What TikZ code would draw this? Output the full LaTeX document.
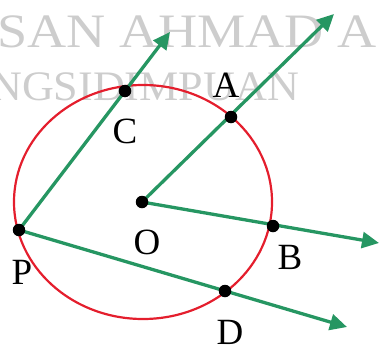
\documentclass[tikz,border=0pt]{standalone}
\usepackage{fontspec}
\setmainfont{Liberation Serif}
\usepackage{tikz}
\usetikzlibrary{arrows.meta}
\definecolor{raygreen}{RGB}{38,150,98}
\definecolor{circlered}{RGB}{228,30,45}
\definecolor{markgray}{RGB}{205,205,205}

\begin{document}
\begin{tikzpicture}[
    x=1pt, y=-1pt,
    ray/.style={draw=raygreen, line width=3.3pt, -{Triangle[length=17pt,width=16pt]}},
    dotpt/.style={circle, fill=black, inner sep=0pt, minimum size=12.5pt},
    ptlabel/.style={inner sep=0pt, font=\fontsize{37}{37}\selectfont},
    watermark/.style={anchor=base west, inner sep=0pt, text=markgray}
]
    \useasboundingbox (0,0) rectangle (379,345);

    % Watermark behind the figure
    \begin{scope}
        \clip (0,0) rectangle (379,345);
        \node[watermark, font=\fontsize{48}{48}\selectfont] (mark_top) at (-3,47) {\scalebox{1.13}[1]{SAN AHMAD A}};
        \node[watermark, font=\fontsize{42}{42}\selectfont] (mark_bottom) at (-10,100) {\scalebox{1.05}[1]{NGSIDIMPUAN}};
    \end{scope}

    % Points
    \coordinate (O) at (142,202);
    \coordinate (P) at (19,230);
    \coordinate (A) at (231,117);
    \coordinate (B) at (273,226);
    \coordinate (C) at (125,91);
    \coordinate (D) at (225,291);
    \coordinate (A_tip) at (334,14);
    \coordinate (B_tip) at (379,243);
    \coordinate (C_tip) at (170,32);
    \coordinate (D_tip) at (347,327);

    % Circle
    \draw[circlered, line width=2.2pt] (143,202) ellipse [x radius=129, y radius=117];

    % Rays
    \draw[ray] (O) -- (A_tip);
    \draw[ray] (O) -- (B_tip);
    \draw[ray] (P) -- (C_tip);
    \draw[ray] (P) -- (D_tip);

    % Dots
    \node[dotpt] (dot_O) at (O) {};
    \node[dotpt] (dot_P) at (P) {};
    \node[dotpt] (dot_A) at (A) {};
    \node[dotpt] (dot_B) at (B) {};
    \node[dotpt] (dot_C) at (C) {};
    \node[dotpt] (dot_D) at (D) {};

    % Labels
    \node[ptlabel] (lbl_A) at (226,85) {A};
    \node[ptlabel] (lbl_B) at (290,257) {B};
    \node[ptlabel] (lbl_C) at (125,131) {C};
    \node[ptlabel] (lbl_D) at (230,332) {D};
    \node[ptlabel] (lbl_O) at (147,242) {O};
    \node[ptlabel] (lbl_P) at (22,272) {P};
\end{tikzpicture}
\end{document}
